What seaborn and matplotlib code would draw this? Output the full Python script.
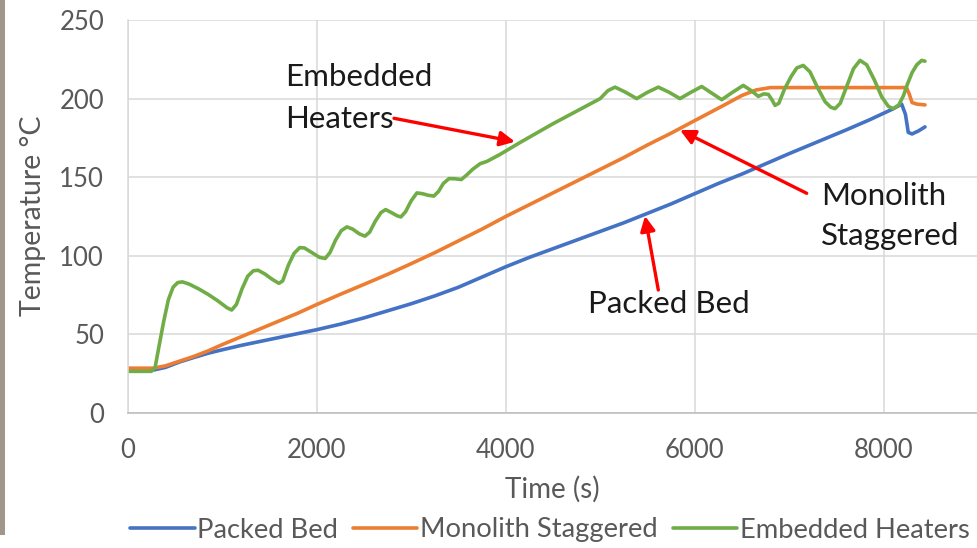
import matplotlib
matplotlib.use("Agg")
import matplotlib.pyplot as plt
from matplotlib.patches import Rectangle
import numpy as np
import pandas as pd
import seaborn as sns

# ---------------- data ----------------
series_names = ["Packed Bed", "Monolith Staggered", "Embedded Heaters"]
series_colors = ["#4472C4", "#ED7D31", "#70AD47"]

time_packed = [0, 150, 270, 400, 550, 700, 850, 1000, 1200, 1400, 1600, 1800, 2000,
               2250, 2500, 2750, 3000, 3250, 3500, 3750, 4000, 4250, 4500, 4750, 5000,
               5250, 5500, 5750, 6000, 6250, 6500, 6750, 7000, 7300, 7600, 7850, 8100,
               8190, 8230, 8260, 8300, 8370, 8437]
temp_packed = [27, 27, 27.3, 29, 32.5, 35.3, 38, 40.2, 43, 45.5, 48, 50.5, 53,
               56.5, 60.5, 65, 69.5, 74.5, 80, 86.5, 93, 99, 104.5, 110, 115.5,
               121, 127, 133, 139.5, 146, 152, 158.5, 165, 172.5, 180, 186.5, 193.5,
               196.5, 190, 178.5, 177.5, 179.5, 182]

time_monolith = [0, 150, 270, 400, 550, 700, 850, 1000, 1200, 1400, 1600, 1800, 2000,
                 2250, 2500, 2750, 3000, 3250, 3500, 3750, 4000, 4250, 4500, 4750, 5000,
                 5250, 5500, 5750, 6000, 6300, 6500, 6650, 6800, 7500, 8240, 8270, 8300,
                 8350, 8437]
temp_monolith = [28.5, 28.5, 28.5, 30, 33, 36, 39.5, 43.5, 48.5, 53.5, 58.5, 63.5, 69,
                 75.5, 81.8, 88.2, 95, 102, 109.5, 117, 125, 132.5, 140, 147.5, 155,
                 162.5, 170.5, 178, 186, 195.5, 202, 205.5, 207, 207, 207, 203, 197.5,
                 196.5, 196]

time_embedded = [0, 250, 290, 330, 380, 430, 480, 530, 580, 650, 750, 850, 950, 1050,
                 1100, 1150, 1210, 1270, 1330, 1380, 1450, 1530, 1600, 1640, 1700, 1760,
                 1820, 1870, 1950, 2030, 2090, 2140, 2200, 2260, 2320, 2380, 2450, 2510,
                 2560, 2620, 2680, 2730, 2790, 2850, 2890, 2940, 3000, 3060, 3120, 3180,
                 3240, 3290, 3340, 3400, 3460, 3530, 3580, 3650, 3730, 3800, 3940, 4150,
                 4500, 4750, 5000, 5080, 5157, 5270, 5386, 5500, 5615, 5730, 5844, 5960,
                 6074, 6180, 6286, 6400, 6514, 6600, 6673, 6730, 6779, 6820, 6850, 6890,
                 6950, 7020, 7080, 7149, 7220, 7300, 7380, 7440, 7485, 7540, 7610, 7680,
                 7749, 7820, 7900, 7980, 8050, 8102, 8160, 8210, 8250, 8300, 8350, 8402, 8437]
temp_embedded = [26.5, 26.5, 29, 42, 58, 72, 80, 83, 83.4, 82, 79, 75.5, 71.5, 67,
                 65.5, 69, 79, 87, 90.5, 90.8, 88.5, 85, 82.5, 84, 94, 101.5,
                 105.2, 105, 102, 99, 98.3, 102, 110, 116, 118.4, 117, 114, 112.5,
                 115, 122, 127.5, 129.4, 127.5, 125.5, 124.7, 128, 135, 140, 139.5, 138.5,
                 138, 141, 146, 149.1, 149, 148.5, 151, 155, 158.6, 160, 164.5, 172,
                 184, 192, 200, 205, 207.3, 204, 200, 204, 207.3, 204, 200, 204,
                 207.7, 203.5, 199.3, 204, 208.4, 205, 201.4, 203, 202.7, 199, 195.7, 197,
                 206, 214, 219.5, 221.1, 217, 207, 198, 194.5, 193.6, 197, 208, 219,
                 224.3, 221.5, 212, 201, 195, 193.6, 196, 202, 209, 216.5, 221.5, 224.3, 223.8]

x_ticks = [0, 2000, 4000, 6000, 8000]
y_ticks = [0, 50, 100, 150, 200, 250]
x_label = "Time (s)"
y_label = "Temperature °C"

frames = []
for name, t, v in [(series_names[0], time_packed, temp_packed),
                   (series_names[1], time_monolith, temp_monolith),
                   (series_names[2], time_embedded, temp_embedded)]:
    frames.append(pd.DataFrame({"Time": t, "Temp": v, "Series": name}))
df = pd.concat(frames, ignore_index=True)

# ---------------- style ----------------
sns.set_theme(style="white")
plt.rcParams["font.family"] = ["Lato", "DejaVu Sans"]

W, H = 978, 548
fig = plt.figure(figsize=(W / 100, H / 100), dpi=100)
fig.patch.set_facecolor("white")

ax_l, ax_r, ax_t, ax_b = 127.7, 978.2, 20, 413
ax = fig.add_axes([ax_l / W, 1 - ax_b / H, (ax_r - ax_l) / W, (ax_b - ax_t) / H])

sns.lineplot(data=df, x="Time", y="Temp", hue="Series", hue_order=series_names,
             palette=series_colors, sort=False, estimator=None, linewidth=2.6,
             ax=ax, legend=True)

ax.set_xlim(0, 9000)
ax.set_ylim(0, 250)
ax.set_xticks(x_ticks)
ax.set_yticks(y_ticks)
ax.grid(True, color="#d9d9d9", linewidth=1.1)
ax.set_axisbelow(True)
for s in ["top", "right"]:
    ax.spines[s].set_visible(False)
ax.spines["left"].set_color("#d9d9d9")
ax.spines["left"].set_linewidth(1.1)
ax.spines["bottom"].set_color("#bfbfbf")
ax.spines["bottom"].set_linewidth(1.2)

tick_col = "#595959"
ax.tick_params(axis="both", length=0, labelsize=18.5, colors=tick_col)
ax.tick_params(axis="y", pad=17)
ax.tick_params(axis="x", pad=18)

ax.set_xlabel(x_label, fontsize=20, color=tick_col)
ax.set_ylabel(y_label, fontsize=20.5, color=tick_col)
ax.xaxis.set_label_coords((552 - ax_l) / (ax_r - ax_l), (ax_b - 476) / (ax_b - ax_t))
ax.yaxis.set_label_coords((46 - ax_l) / (ax_r - ax_l), (ax_b - 216) / (ax_b - ax_t))

handles, labels = ax.get_legend_handles_labels()
ax.get_legend().remove()
fig.legend(handles, labels, loc="center", bbox_to_anchor=(550 / W, 1 - 530 / H),
           ncol=3, frameon=False, fontsize=19.7, handlelength=2.35,
           handletextpad=0.1, columnspacing=0.55, labelcolor=tick_col)
for h in fig.legends[0].legend_handles:
    h.set_linewidth(2.6)

# ---------------- annotations ----------------
def px2data(px, py):
    return ((px - ax_l) / (ax_r - ax_l) * 9000, (ax_b - py) / (ax_b - ax_t) * 250)

txt_kw = dict(fontsize=22.5, color="#1a1a1a", ha="left", va="baseline")
ax.text(*px2data(285, 86), "Embedded", **txt_kw)
ax.text(*px2data(285, 128), "Heaters", **txt_kw)
ax.text(*px2data(821, 205), "Monolith", **txt_kw)
ax.text(*px2data(821, 245), "Staggered", **txt_kw)
ax.text(*px2data(588, 313), "Packed Bed", **txt_kw)

arrow_kw = dict(arrowstyle="-|>", color="#ff0000", lw=2.4, mutation_scale=22,
                shrinkA=0, shrinkB=0)
ax.annotate("", xy=px2data(515, 141.7), xytext=px2data(394, 118.3), arrowprops=arrow_kw)
ax.annotate("", xy=px2data(680, 130), xytext=px2data(806.7, 193.3), arrowprops=arrow_kw)
ax.annotate("", xy=px2data(645, 216), xytext=px2data(658.3, 290), arrowprops=arrow_kw)

# left border strip seen in the reference image
fig.patches.append(Rectangle((0, 1 - 535 / H), 5 / W, 535 / H, transform=fig.transFigure,
                             facecolor="#a0968c", edgecolor="none"))

fig.savefig("out.png", dpi=100)
